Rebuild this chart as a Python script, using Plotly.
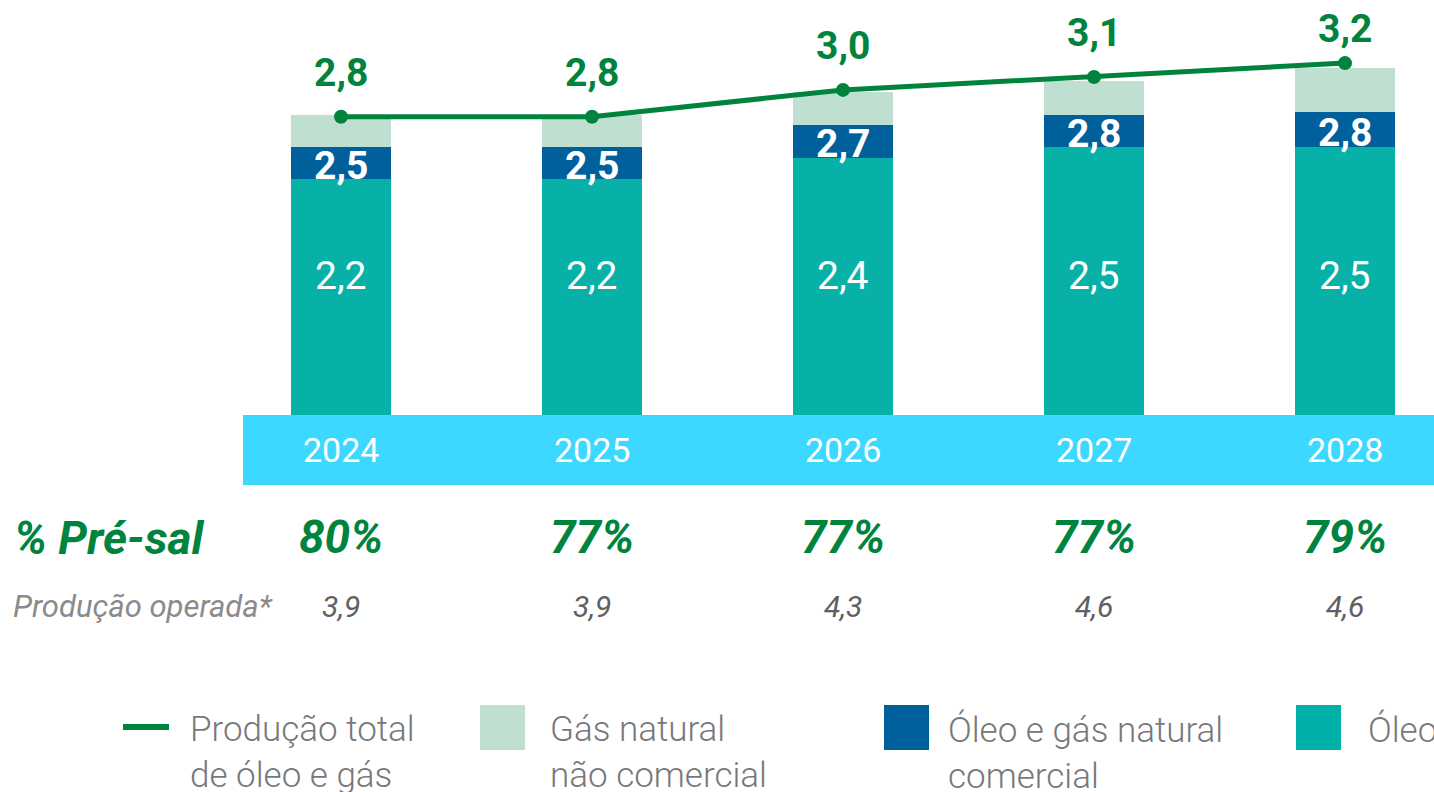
import plotly.graph_objects as go

years = ["2024", "2025", "2026", "2027", "2028"]
oleo = [2.2, 2.2, 2.4, 2.5, 2.5]
gas_comercial = [0.3, 0.3, 0.3, 0.3, 0.32]
gas_nao_comercial = [0.3, 0.3, 0.31, 0.31, 0.41]
producao_total = [2.78, 2.78, 3.03, 3.15, 3.28]
producao_total_labels = ["2,8", "2,8", "3,0", "3,1", "3,2"]
pre_sal = ["80%", "77%", "77%", "77%", "79%"]
producao_operada = [3.9, 3.9, 4.3, 4.6, 4.6]

# label offsets (style only)
total_label_shift = [44, 44, 44, 44, 34]

W, H = 1434, 792
GREEN = "#00843D"
TEAL = "#08B1A8"
BLUE = "#00609C"
LIGHT = "#BFE0D1"
CYAN = "#3CD8FF"
GRAY = "#77787B"
FONT = "Roboto, 'Open Sans', sans-serif"


def fmt(v):
    return f"{v:.1f}".replace(".", ",")


def px(x):
    return x / W


def py(y):
    return 1 - y / H


fig = go.Figure()
fig.add_bar(x=years, y=oleo, marker_color=TEAL, width=0.4, name="Óleo",
            marker_line_width=0, hoverinfo="skip")
fig.add_bar(x=years, y=gas_comercial, marker_color=BLUE, width=0.4,
            name="Óleo e gás natural comercial", marker_line_width=0, hoverinfo="skip")
fig.add_bar(x=years, y=gas_nao_comercial, marker_color=LIGHT, width=0.4,
            name="Gás natural não comercial", marker_line_width=0, hoverinfo="skip")
fig.add_scatter(x=years, y=producao_total, mode="lines+markers",
                line=dict(color=GREEN, width=5), marker=dict(color=GREEN, size=14),
                name="Produção total de óleo e gás", hoverinfo="skip")

ann = []
for i, yr in enumerate(years):
    ann.append(dict(x=i, y=1.3, text=fmt(oleo[i]), showarrow=False,
                    font=dict(family=FONT, size=39, color="white")))
    cum = oleo[i] + gas_comercial[i]
    ann.append(dict(x=i, y=oleo[i] + gas_comercial[i] / 2, yshift=-3,
                    text=f"<b>{fmt(cum)}</b>", showarrow=False,
                    font=dict(family=FONT, size=39, color="white")))
    ann.append(dict(x=i, y=producao_total[i], yshift=total_label_shift[i],
                    text=f"<b>{producao_total_labels[i]}</b>", showarrow=False,
                    font=dict(family=FONT, size=39, color=GREEN)))
    ann.append(dict(x=i, y=-0.326, text=yr, showarrow=False,
                    font=dict(family=FONT, size=34, color="white")))
    ann.append(dict(x=i, yref="paper", y=py(537), yanchor="middle",
                    text=f"<b><i>{pre_sal[i]}</i></b>",
                    showarrow=False, font=dict(family=FONT, size=46, color=GREEN)))
    ann.append(dict(x=i, yref="paper", y=py(606), yanchor="middle",
                    text=f"<i>{fmt(producao_operada[i])}</i>",
                    showarrow=False, font=dict(family=FONT, size=30, color="#5F6062")))

ann.append(dict(xref="paper", yref="paper", x=px(12), y=py(538), xanchor="left",
                yanchor="middle", text="<b><i>% Pré-sal</i></b>", showarrow=False,
                font=dict(family=FONT, size=46, color=GREEN)))
ann.append(dict(xref="paper", yref="paper", x=px(11), y=py(606), xanchor="left",
                yanchor="middle", text="<i>Produção operada*</i>", showarrow=False,
                font=dict(family=FONT, size=31, color="#8A8B8D")))

legend_items = [
    (188, "Produção total<br>de óleo e gás"),
    (548, "Gás natural<br>não comercial"),
    (946, "Óleo e gás natural<br>comercial"),
    (1366, "Óleo"),
]
for x0, txt in legend_items:
    ann.append(dict(xref="paper", yref="paper", x=px(x0), y=py(707), xanchor="left",
                    yanchor="top", align="left", text=txt, showarrow=False,
                    font=dict(family=FONT, size=35, color=GRAY, weight=300)))

shapes = [
    dict(type="rect", xref="paper", yref="y", x0=px(243), x1=1, y0=-0.652, y1=0,
         fillcolor=CYAN, line_width=0, layer="below"),
    dict(type="line", xref="paper", yref="paper", x0=px(123), x1=px(169),
         y0=py(727), y1=py(727), line=dict(color=GREEN, width=6)),
    dict(type="rect", xref="paper", yref="paper", x0=px(480), x1=px(525),
         y0=py(750), y1=py(705), fillcolor=LIGHT, line_width=0),
    dict(type="rect", xref="paper", yref="paper", x0=px(884), x1=px(929),
         y0=py(750), y1=py(705), fillcolor=BLUE, line_width=0),
    dict(type="rect", xref="paper", yref="paper", x0=px(1296), x1=px(1341),
         y0=py(750), y1=py(705), fillcolor="#00B1A9", line_width=0),
]

fig.update_layout(
    width=W, height=H, barmode="stack", showlegend=False,
    margin=dict(l=0, r=0, t=0, b=0),
    paper_bgcolor="white", plot_bgcolor="white",
    xaxis=dict(type="category", range=[-1.3586, 4.3546], visible=False, fixedrange=True),
    yaxis=dict(range=[-3.513, 3.868], visible=False, fixedrange=True),
    annotations=ann, shapes=shapes,
)

fig.write_html("out.html", config={"displayModeBar": False},
               post_script="document.body.style.margin='0';document.body.style.overflow='hidden';")
